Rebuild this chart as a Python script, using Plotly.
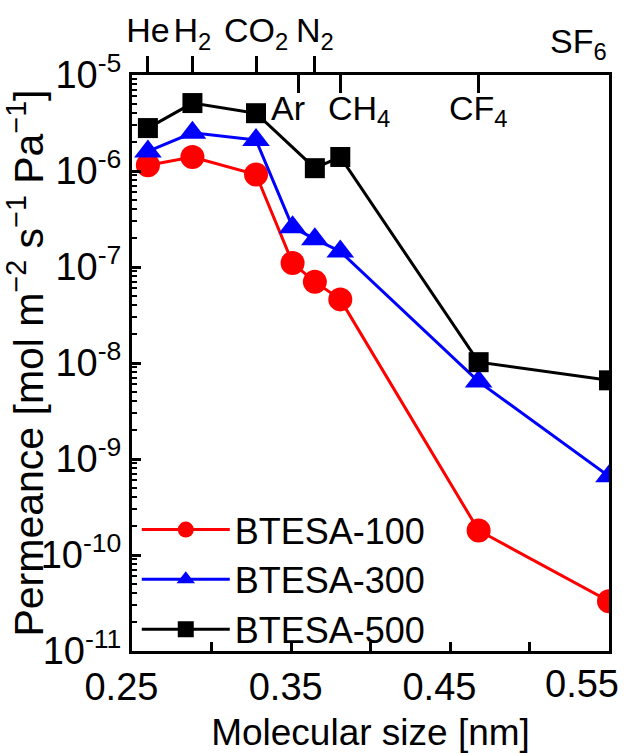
import plotly.graph_objects as go

# Molecular sizes (nm) for the gases
gases = ["He", "H2", "CO2", "Ar", "N2", "CH4", "CF4", "SF6"]
sizes = [0.26, 0.288, 0.328, 0.351, 0.365, 0.381, 0.468, 0.55]

# Permeance values [mol m-2 s-1 Pa-1]
btesa_100 = [1.15e-6, 1.4e-6, 9.2e-7, 1.1e-7, 7.0e-8, 4.6e-8, 1.8e-10, 3.3e-11]
btesa_300 = [1.6e-6, 2.5e-6, 2.1e-6, 2.6e-7, 1.95e-7, 1.45e-7, 6.4e-9, 6.6e-10]
btesa_500 = [2.8e-6, 5.1e-6, 4.0e-6, None, 1.07e-6, 1.4e-6, 1.02e-8, 6.6e-9]

# Top-axis labels
top_out_vals = [0.26, 0.288, 0.328, 0.365]
top_out_text = ["He", "H<sub>2</sub>", "CO<sub>2</sub>", "N<sub>2</sub>"]
top_in_vals = [0.355, 0.381, 0.468]
top_in_text = ["Ar", "CH<sub>4</sub>", "CF<sub>4</sub>"]
top_in_anchor = ["right", "left", "center"]
sf6_label = "SF<sub>6</sub>"

y_tickvals = [1e-11, 1e-10, 1e-9, 1e-8, 1e-7, 1e-6, 1e-5]
y_ticktext = ["10<sup>-11</sup>", "10<sup>-10</sup>", "10<sup>-9</sup>", "10<sup>-8</sup>",
              "10<sup>-7</sup>", "10<sup>-6</sup>", "10<sup>-5</sup>"]
x_tickvals = [0.25, 0.35, 0.45, 0.55]
x_ticktext = ["0.25&nbsp;&nbsp;", "0.35&nbsp;", "0.45&nbsp;&nbsp;", ""]
x_last_label = "0.55"

FONT = "Arial, Liberation Sans, sans-serif"
X_RANGE = [0.25, 0.55]
Y_RANGE = [-11, -5]

fig = go.Figure()
fig.add_trace(go.Scatter(x=sizes, y=btesa_100, name="BTESA-100", mode="lines+markers",
                         line=dict(color="#ff0000", width=3),
                         marker=dict(symbol="circle", size=24, color="#ff0000")))
fig.add_trace(go.Scatter(x=sizes, y=btesa_300, name="BTESA-300", mode="lines+markers",
                         line=dict(color="#0000ff", width=3),
                         marker=dict(symbol="triangle-up", size=24, color="#0000ff")))
fig.add_trace(go.Scatter(x=sizes, y=btesa_500, name="BTESA-500", mode="lines+markers",
                         connectgaps=True,
                         line=dict(color="#000000", width=3),
                         marker=dict(symbol="square", size=20, color="#000000")))

# dummy traces to activate top axes
fig.add_trace(go.Scatter(x=[0.3], y=[1e-5], xaxis="x2", showlegend=False,
                         mode="markers", marker=dict(opacity=0), hoverinfo="skip"))
fig.add_trace(go.Scatter(x=[0.3], y=[1e-5], xaxis="x3", showlegend=False,
                         mode="markers", marker=dict(opacity=0), hoverinfo="skip"))

fig.update_layout(
    width=627, height=753,
    margin=dict(l=132, r=18, t=75, b=102, autoexpand=False),
    paper_bgcolor="white", plot_bgcolor="white",
    font=dict(family=FONT, size=34, color="black"),
    showlegend=True,
    legend=dict(x=0.01, y=-0.015, xanchor="left", yanchor="bottom",
                bgcolor="rgba(0,0,0,0)", font=dict(size=36, color="black"), itemwidth=88,
                tracegroupgap=0),
    xaxis=dict(range=X_RANGE, tickvals=x_tickvals, ticktext=x_ticktext,
               ticks="inside", ticklen=9, tickwidth=2.5, tickcolor="black",
               minor=dict(dtick=0.05, tick0=0.25, ticks="inside", ticklen=9,
                          tickwidth=2.5, tickcolor="black"),
               showline=True, linewidth=3, linecolor="black", mirror=True,
               showgrid=False, zeroline=False, ticklabelstandoff=0, tickangle=0,
               ticklabeloverflow="allow", automargin=False,
               tickfont=dict(size=38, color="black"),
               title=dict(text="Molecular size [nm]", font=dict(size=37, color="black"),
                          standoff=22)),
    xaxis2=dict(overlaying="x", side="top", range=X_RANGE, anchor="y",
                tickvals=top_out_vals, ticktext=top_out_text, tickangle=0,
                ticks="outside", ticklen=18, tickwidth=2.5, tickcolor="black",
                showline=False, showgrid=False, zeroline=False,
                ticklabeloverflow="allow", automargin=False,
                tickfont=dict(size=34, color="black"), ticklabelstandoff=0),
    xaxis3=dict(overlaying="x", side="top", range=X_RANGE, anchor="y",
                tickvals=top_in_vals, showticklabels=False, automargin=False,
                ticks="inside", ticklen=18, tickwidth=2.5, tickcolor="black",
                showline=False, showgrid=False, zeroline=False),
    yaxis=dict(type="log", range=Y_RANGE, tickvals=y_tickvals, ticktext=y_ticktext,
               ticks="inside", ticklen=9, tickwidth=2.5, tickcolor="black",
               minor=dict(ticks="inside", ticklen=5, tickwidth=1.5, tickcolor="black",
                          dtick="D1"),
               showline=True, linewidth=3, linecolor="black", mirror=True,
               ticklabeloverflow="allow", automargin=False,
               showgrid=False, zeroline=False, tickfont=dict(size=38, color="black"),
               title=dict(text="Permeance [mol m<sup>−2</sup> s<sup>−1</sup> Pa<sup>−1</sup>]",
                          font=dict(size=41, color="black"), standoff=4)),
)

shifts = {"right": 8, "left": -14, "center": 0}
for xv, txt, anc in zip(top_in_vals, top_in_text, top_in_anchor):
    fig.add_annotation(x=xv, y=1, xref="x", yref="paper", text=txt,
                       showarrow=False, xanchor=anc, yanchor="top", yshift=-12,
                       xshift=shifts[anc], font=dict(size=34, color="black"))

fig.add_annotation(x=0.55, y=1, xref="x", yref="paper", text=sf6_label,
                   showarrow=False, xanchor="right", yanchor="bottom", yshift=8,
                   font=dict(size=34, color="black"))

fig.add_annotation(x=x_tickvals[-1], y=0, xref="x", yref="paper", text=x_last_label,
                   showarrow=False, xanchor="right", yanchor="top", yshift=-10,
                   xshift=12, font=dict(size=38, color="black"))

fig.write_html("out.html")
